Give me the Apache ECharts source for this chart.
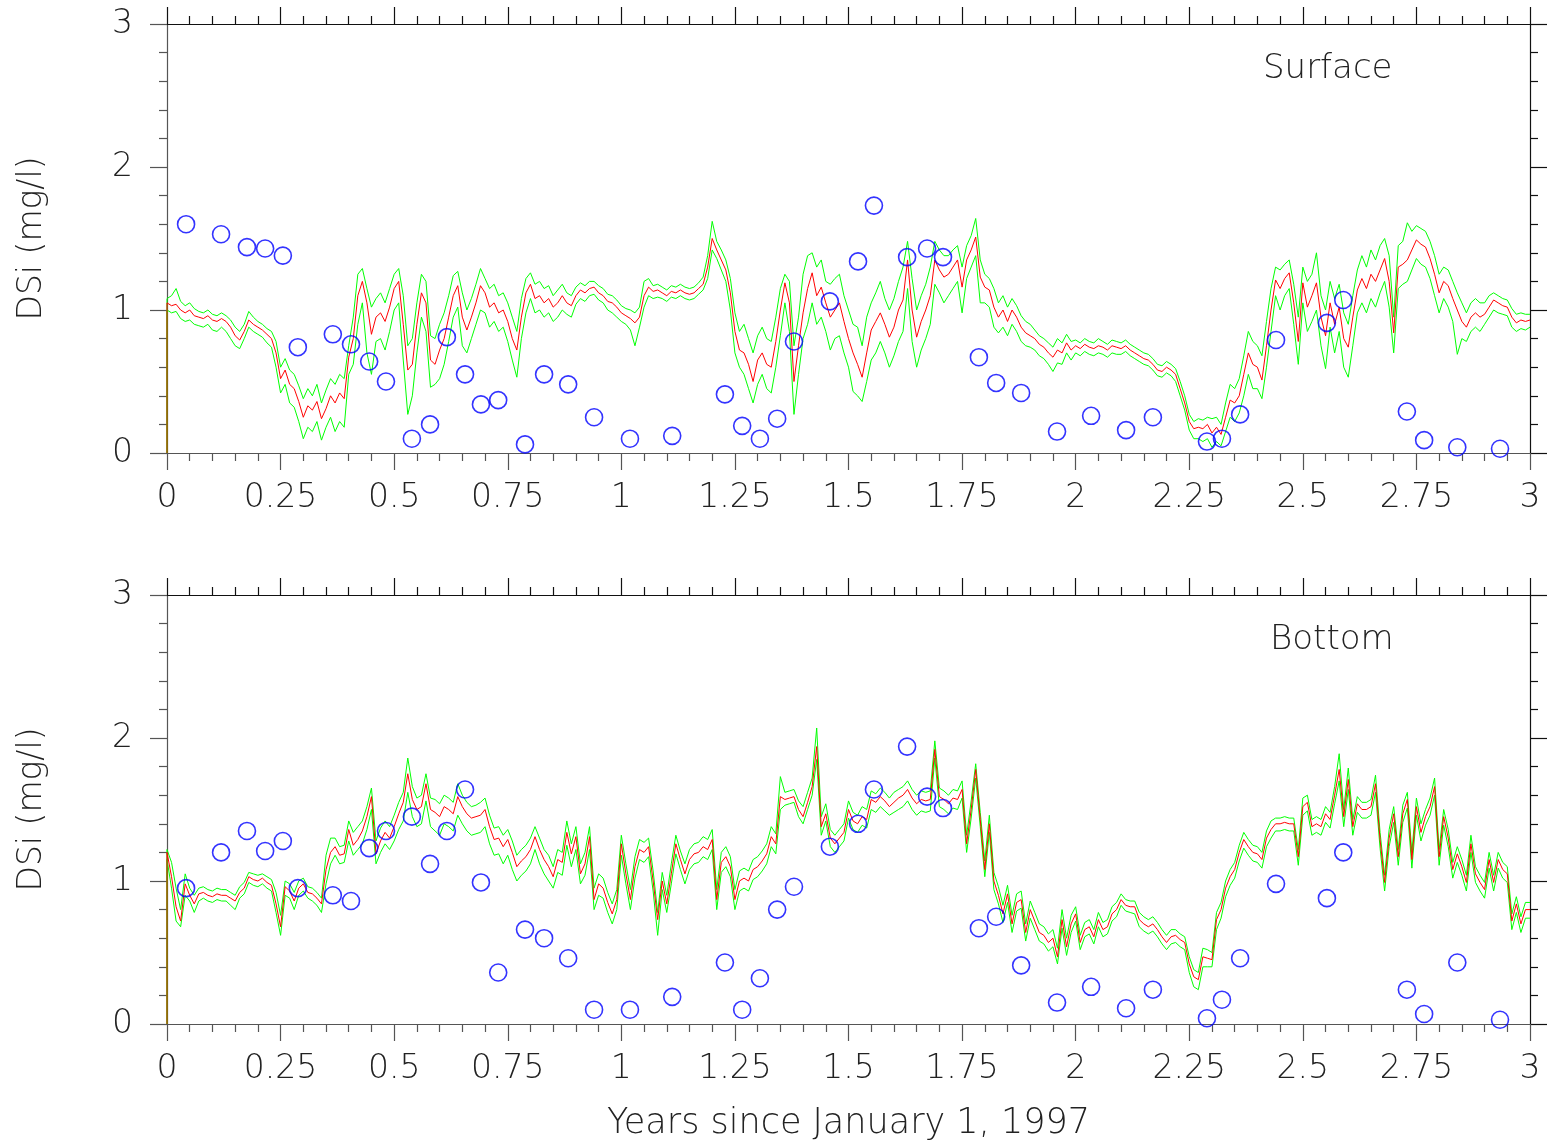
<!DOCTYPE html>
<html>
<head>
<meta charset="utf-8">
<script src="https://cdn.jsdelivr.net/npm/echarts@6/dist/echarts.min.js"></script>
<style>
  html, body { margin: 0; padding: 0; background: #fff; }
  #chart { width: 1549px; height: 1143px; }
</style>
</head>
<body>
<div id="chart"></div>
<script>
// model output every 0.01 yr, from t = 0 to t = 3
const surfMid = [
  1.05,1.03,1.04,1.00,0.98,1.00,0.96,0.95,0.94,0.96,
  0.93,0.92,0.94,0.92,0.88,0.82,0.79,0.85,0.93,0.90,
  0.88,0.86,0.83,0.80,0.70,0.52,0.58,0.48,0.45,0.36,
  0.25,0.33,0.30,0.36,0.24,0.31,0.40,0.35,0.42,0.38,
  0.67,0.80,1.10,1.20,1.05,0.83,0.95,0.98,0.92,1.02,
  1.15,1.20,0.90,0.58,0.62,0.90,1.12,1.05,0.65,0.62,
  0.72,0.80,0.95,1.10,1.17,0.95,0.86,0.95,1.05,1.17,
  1.12,1.02,1.05,0.98,1.00,0.92,0.80,0.72,0.95,1.12,
  1.18,1.08,1.10,1.05,1.08,1.02,1.05,1.10,1.05,1.03,
  1.10,1.14,1.12,1.15,1.16,1.12,1.10,1.06,1.05,1.02,
  0.98,0.96,0.94,0.91,0.95,1.10,1.16,1.13,1.14,1.12,
  1.10,1.13,1.12,1.14,1.12,1.11,1.12,1.15,1.18,1.30,
  1.50,1.42,1.35,1.28,1.12,0.85,0.72,0.70,0.62,0.50,
  0.65,0.70,0.62,0.60,0.78,1.00,1.19,1.05,0.50,0.75,
  0.98,1.15,1.26,1.10,1.16,1.05,0.95,1.00,1.05,0.92,
  0.80,0.70,0.62,0.53,0.70,0.86,0.92,0.98,0.90,0.81,
  0.88,1.00,1.07,1.35,1.00,0.81,0.92,1.00,1.10,1.35,
  1.28,1.23,1.25,1.30,1.35,1.16,1.35,1.42,1.51,1.23,
  1.16,1.14,1.02,0.95,1.00,0.92,1.00,0.95,0.88,0.84,
  0.82,0.80,0.76,0.74,0.70,0.67,0.72,0.70,0.77,0.72,
  0.75,0.73,0.76,0.74,0.73,0.75,0.74,0.72,0.75,0.74,
  0.73,0.75,0.72,0.70,0.68,0.66,0.65,0.62,0.58,0.57,
  0.60,0.58,0.55,0.45,0.35,0.22,0.17,0.18,0.17,0.20,
  0.14,0.18,0.13,0.25,0.37,0.35,0.40,0.55,0.70,0.62,
  0.60,0.51,0.75,1.00,1.21,1.15,1.22,1.26,1.05,0.78,
  1.19,1.02,1.10,1.19,0.95,0.82,1.05,0.90,1.02,0.80,
  0.74,0.95,1.14,1.22,1.15,1.25,1.20,1.28,1.36,1.20,
  0.84,1.30,1.32,1.35,1.42,1.49,1.46,1.44,1.36,1.25,
  1.12,1.20,1.17,1.08,1.00,0.92,0.88,0.95,0.98,0.95,
  0.97,1.02,1.07,1.05,1.03,1.02,0.95,0.91,0.93,0.92,
  0.93
];
const surfHigh = [
  1.08,1.10,1.15,1.06,1.03,1.05,1.01,0.99,0.98,1.00,
  0.97,0.96,0.98,0.96,0.93,0.88,0.85,0.90,0.99,0.95,
  0.92,0.90,0.87,0.85,0.78,0.60,0.66,0.58,0.55,0.47,
  0.38,0.45,0.40,0.48,0.35,0.44,0.52,0.48,0.55,0.52,
  0.75,0.95,1.25,1.29,1.15,1.02,1.08,1.12,1.05,1.15,
  1.25,1.29,1.10,0.75,0.80,1.05,1.25,1.20,0.82,0.80,
  0.90,0.98,1.10,1.24,1.27,1.12,1.00,1.08,1.18,1.29,
  1.22,1.15,1.18,1.10,1.12,1.05,0.95,0.85,1.08,1.22,
  1.26,1.18,1.20,1.15,1.17,1.10,1.14,1.18,1.12,1.10,
  1.16,1.19,1.17,1.20,1.20,1.17,1.15,1.11,1.10,1.07,
  1.03,1.01,1.00,0.98,1.02,1.20,1.22,1.17,1.18,1.16,
  1.14,1.17,1.16,1.18,1.16,1.15,1.16,1.19,1.23,1.38,
  1.62,1.48,1.42,1.35,1.22,0.98,0.85,0.90,0.80,0.70,
  0.82,0.88,0.80,0.78,0.95,1.15,1.25,1.20,0.75,0.95,
  1.25,1.38,1.40,1.30,1.35,1.20,1.18,1.22,1.25,1.10,
  1.00,0.90,0.88,0.75,0.95,1.05,1.12,1.20,1.08,1.00,
  1.08,1.20,1.30,1.48,1.22,1.00,1.10,1.18,1.30,1.48,
  1.42,1.38,1.38,1.42,1.45,1.30,1.45,1.52,1.64,1.35,
  1.25,1.22,1.15,1.05,1.10,1.02,1.08,1.03,0.96,0.92,
  0.90,0.86,0.82,0.80,0.77,0.74,0.80,0.77,0.83,0.78,
  0.79,0.77,0.80,0.78,0.77,0.80,0.78,0.76,0.79,0.78,
  0.77,0.79,0.76,0.74,0.72,0.70,0.69,0.66,0.62,0.61,
  0.64,0.62,0.59,0.50,0.40,0.27,0.22,0.24,0.23,0.25,
  0.24,0.25,0.20,0.35,0.48,0.45,0.52,0.68,0.85,0.78,
  0.75,0.68,0.92,1.15,1.30,1.28,1.32,1.35,1.18,0.95,
  1.30,1.20,1.25,1.40,1.10,1.00,1.20,1.08,1.18,0.98,
  0.90,1.10,1.28,1.38,1.30,1.42,1.35,1.45,1.50,1.38,
  0.95,1.45,1.48,1.61,1.55,1.59,1.57,1.55,1.48,1.38,
  1.25,1.30,1.28,1.20,1.12,1.05,0.98,1.05,1.08,1.05,
  1.05,1.10,1.12,1.10,1.08,1.07,1.01,0.97,0.98,0.97,
  0.97
];
const surfLow = [
  1.00,0.98,0.99,0.94,0.92,0.93,0.90,0.89,0.88,0.90,
  0.86,0.85,0.88,0.85,0.80,0.75,0.73,0.80,0.88,0.85,
  0.83,0.81,0.77,0.74,0.60,0.42,0.48,0.35,0.32,0.22,
  0.10,0.18,0.15,0.22,0.09,0.18,0.25,0.15,0.22,0.18,
  0.55,0.62,0.90,1.05,0.70,0.55,0.78,0.80,0.72,0.85,
  1.00,1.05,0.65,0.27,0.40,0.70,0.95,0.85,0.46,0.48,
  0.52,0.62,0.78,0.95,1.02,0.75,0.70,0.80,0.90,1.00,
  0.98,0.88,0.92,0.85,0.88,0.78,0.65,0.53,0.80,0.98,
  1.08,0.98,1.00,0.95,0.98,0.92,0.95,1.00,0.97,0.95,
  1.04,1.08,1.06,1.10,1.11,1.07,1.05,1.00,0.98,0.95,
  0.92,0.90,0.86,0.75,0.88,1.02,1.10,1.08,1.09,1.08,
  1.06,1.09,1.08,1.10,1.08,1.07,1.08,1.11,1.14,1.22,
  1.42,1.36,1.28,1.20,1.00,0.70,0.60,0.55,0.45,0.35,
  0.48,0.55,0.45,0.42,0.60,0.82,1.05,0.85,0.27,0.55,
  0.80,0.90,1.05,0.90,0.95,0.85,0.72,0.80,0.82,0.70,
  0.60,0.43,0.40,0.36,0.50,0.65,0.70,0.78,0.70,0.60,
  0.68,0.78,0.85,1.15,0.78,0.60,0.72,0.80,0.90,1.18,
  1.12,1.05,1.10,1.15,1.20,0.98,1.22,1.30,1.38,1.05,
  1.05,1.02,0.88,0.84,0.88,0.82,0.90,0.85,0.78,0.75,
  0.74,0.72,0.68,0.66,0.62,0.57,0.63,0.62,0.70,0.65,
  0.70,0.68,0.71,0.69,0.68,0.70,0.69,0.67,0.70,0.69,
  0.69,0.71,0.68,0.66,0.64,0.62,0.61,0.58,0.54,0.53,
  0.56,0.54,0.50,0.40,0.30,0.16,0.10,0.10,0.08,0.10,
  0.04,0.08,0.05,0.15,0.25,0.22,0.28,0.40,0.55,0.45,
  0.45,0.38,0.60,0.85,1.10,1.00,1.10,1.15,0.90,0.62,
  1.05,0.85,0.92,1.00,0.75,0.59,0.88,0.70,0.85,0.60,
  0.53,0.75,0.98,1.05,0.98,1.08,1.02,1.12,1.20,1.02,
  0.70,1.15,1.18,1.20,1.28,1.36,1.32,1.30,1.22,1.10,
  0.98,1.08,1.02,0.92,0.69,0.80,0.78,0.85,0.88,0.85,
  0.90,0.95,1.00,0.98,0.97,0.96,0.88,0.85,0.87,0.86,
  0.88
];
const botMid = [
  1.20,1.03,0.82,0.72,0.98,0.90,0.84,0.91,0.92,0.90,
  0.89,0.91,0.90,0.90,0.88,0.86,0.92,0.95,1.03,1.01,
  1.00,1.02,0.99,0.97,0.84,0.68,0.96,0.93,0.86,0.95,
  0.98,0.92,0.91,0.88,0.84,1.08,1.20,1.24,1.18,1.19,
  1.36,1.25,1.29,1.35,1.45,1.59,1.19,1.28,1.34,1.30,
  1.38,1.47,1.55,1.75,1.57,1.50,1.52,1.68,1.50,1.48,
  1.45,1.52,1.50,1.47,1.59,1.52,1.47,1.44,1.45,1.46,
  1.50,1.38,1.29,1.30,1.24,1.29,1.20,1.10,1.14,1.17,
  1.22,1.31,1.22,1.15,1.10,1.03,1.15,1.13,1.34,1.19,
  1.31,1.05,1.12,1.31,0.87,0.98,0.95,0.85,0.77,0.87,
  1.26,1.05,0.87,1.10,1.22,1.20,1.24,1.00,0.73,1.00,
  0.84,1.05,1.26,1.15,1.05,1.15,1.19,1.20,1.24,1.22,
  1.29,0.87,1.13,1.17,1.10,0.87,1.00,1.02,1.00,1.08,
  1.10,1.14,1.19,1.31,1.26,1.59,1.57,1.58,1.59,1.50,
  1.45,1.55,1.66,1.94,1.38,1.47,1.30,1.26,1.30,1.34,
  1.50,1.42,1.40,1.45,1.43,1.57,1.55,1.59,1.56,1.52,
  1.55,1.58,1.60,1.64,1.58,1.54,1.57,1.56,1.57,1.92,
  1.59,1.57,1.54,1.58,1.57,1.64,1.26,1.50,1.78,1.43,
  1.08,1.40,1.00,0.90,0.77,0.91,0.70,0.85,0.87,0.64,
  0.80,0.72,0.64,0.62,0.57,0.60,0.47,0.73,0.54,0.70,
  0.77,0.57,0.66,0.68,0.61,0.73,0.66,0.68,0.77,0.80,
  0.87,0.83,0.82,0.82,0.73,0.70,0.68,0.70,0.66,0.61,
  0.57,0.61,0.62,0.59,0.57,0.42,0.33,0.31,0.47,0.46,
  0.45,0.73,0.80,0.95,1.03,1.08,1.20,1.29,1.24,1.20,
  1.19,1.15,1.30,1.36,1.40,1.40,1.41,1.40,1.40,1.17,
  1.52,1.55,1.38,1.40,1.38,1.47,1.43,1.60,1.78,1.45,
  1.71,1.38,1.54,1.50,1.50,1.52,1.68,1.29,0.99,1.30,
  1.47,1.17,1.47,1.57,1.15,1.52,1.34,1.45,1.52,1.66,
  1.17,1.45,1.30,1.08,1.19,1.10,0.99,1.26,1.05,0.99,
  0.94,1.15,0.99,1.15,1.08,1.05,0.72,0.84,0.70,0.80,
  0.80
];
const botHigh = [
  1.22,1.13,0.95,0.80,1.05,0.95,0.90,0.95,0.96,0.94,
  0.93,0.95,0.94,0.94,0.92,0.90,0.96,0.99,1.06,1.05,
  1.04,1.05,1.03,1.01,0.92,0.76,1.00,0.98,0.92,1.00,
  1.02,0.96,0.95,0.92,0.88,1.18,1.30,1.30,1.24,1.25,
  1.42,1.34,1.38,1.42,1.52,1.65,1.28,1.37,1.42,1.38,
  1.46,1.55,1.62,1.86,1.66,1.58,1.60,1.75,1.58,1.57,
  1.54,1.60,1.58,1.55,1.68,1.60,1.55,1.52,1.53,1.55,
  1.58,1.46,1.37,1.38,1.32,1.36,1.28,1.18,1.22,1.25,
  1.30,1.38,1.30,1.22,1.18,1.10,1.22,1.20,1.42,1.26,
  1.38,1.12,1.20,1.38,0.95,1.05,1.02,0.92,0.84,0.94,
  1.32,1.12,0.94,1.17,1.29,1.27,1.30,1.07,0.78,1.06,
  0.90,1.12,1.32,1.21,1.12,1.22,1.26,1.27,1.31,1.29,
  1.36,0.94,1.20,1.24,1.17,0.94,1.07,1.09,1.07,1.15,
  1.17,1.21,1.26,1.38,1.33,1.73,1.62,1.63,1.64,1.56,
  1.52,1.62,1.72,2.07,1.45,1.54,1.36,1.32,1.36,1.40,
  1.56,1.48,1.46,1.52,1.50,1.63,1.61,1.65,1.62,1.58,
  1.62,1.64,1.66,1.70,1.64,1.60,1.63,1.62,1.63,1.98,
  1.65,1.63,1.60,1.64,1.63,1.70,1.32,1.56,1.82,1.48,
  1.14,1.46,1.06,0.96,0.83,0.97,0.76,0.91,0.93,0.70,
  0.86,0.78,0.70,0.68,0.63,0.66,0.53,0.80,0.60,0.76,
  0.82,0.62,0.71,0.73,0.66,0.78,0.71,0.73,0.82,0.85,
  0.91,0.87,0.86,0.86,0.78,0.75,0.73,0.75,0.71,0.66,
  0.62,0.66,0.66,0.63,0.61,0.47,0.38,0.36,0.53,0.52,
  0.50,0.78,0.85,1.00,1.08,1.13,1.25,1.34,1.29,1.25,
  1.24,1.20,1.35,1.42,1.44,1.44,1.45,1.44,1.44,1.22,
  1.58,1.60,1.43,1.45,1.43,1.52,1.48,1.66,1.89,1.50,
  1.79,1.43,1.59,1.55,1.55,1.57,1.74,1.34,1.04,1.36,
  1.52,1.22,1.53,1.62,1.20,1.58,1.40,1.50,1.58,1.72,
  1.22,1.50,1.36,1.13,1.24,1.15,1.04,1.32,1.10,1.04,
  0.99,1.20,1.04,1.20,1.13,1.10,0.77,0.89,0.75,0.85,
  0.85
];
const botLow = [
  1.15,0.95,0.72,0.68,0.90,0.86,0.78,0.86,0.88,0.86,
  0.85,0.87,0.86,0.86,0.83,0.80,0.88,0.91,0.99,0.97,
  0.96,0.98,0.95,0.93,0.78,0.62,0.90,0.88,0.80,0.90,
  0.93,0.88,0.86,0.83,0.78,0.98,1.12,1.18,1.12,1.13,
  1.28,1.18,1.22,1.26,1.36,1.50,1.12,1.20,1.26,1.22,
  1.28,1.36,1.42,1.62,1.45,1.38,1.40,1.56,1.38,1.35,
  1.32,1.40,1.38,1.35,1.46,1.40,1.35,1.32,1.33,1.34,
  1.38,1.26,1.18,1.19,1.12,1.18,1.08,1.00,1.04,1.07,
  1.12,1.22,1.12,1.05,1.00,0.95,1.06,1.04,1.25,1.10,
  1.22,0.98,1.04,1.22,0.80,0.90,0.88,0.78,0.70,0.80,
  1.18,0.98,0.80,1.02,1.15,1.13,1.17,0.93,0.62,0.94,
  0.78,0.98,1.19,1.08,0.98,1.08,1.12,1.13,1.17,1.15,
  1.22,0.80,1.06,1.10,1.03,0.80,0.93,0.95,0.93,1.01,
  1.03,1.07,1.12,1.24,1.19,1.50,1.53,1.54,1.55,1.45,
  1.40,1.50,1.60,1.85,1.32,1.42,1.24,1.20,1.24,1.28,
  1.44,1.36,1.34,1.39,1.37,1.50,1.48,1.52,1.49,1.46,
  1.48,1.50,1.52,1.56,1.50,1.46,1.49,1.48,1.49,1.86,
  1.52,1.50,1.47,1.51,1.50,1.58,1.20,1.44,1.72,1.38,
  1.03,1.34,0.94,0.84,0.71,0.85,0.64,0.79,0.81,0.58,
  0.74,0.66,0.58,0.56,0.51,0.54,0.42,0.67,0.48,0.64,
  0.72,0.52,0.61,0.63,0.56,0.68,0.61,0.63,0.72,0.75,
  0.83,0.79,0.78,0.77,0.68,0.65,0.63,0.65,0.61,0.56,
  0.52,0.56,0.57,0.54,0.52,0.36,0.26,0.24,0.40,0.40,
  0.40,0.66,0.74,0.89,0.97,1.02,1.14,1.23,1.18,1.14,
  1.13,1.09,1.24,1.30,1.35,1.35,1.36,1.35,1.35,1.11,
  1.46,1.49,1.32,1.34,1.32,1.41,1.37,1.54,1.70,1.38,
  1.64,1.32,1.48,1.44,1.44,1.46,1.62,1.23,0.93,1.24,
  1.41,1.11,1.41,1.51,1.09,1.46,1.28,1.39,1.46,1.60,
  1.11,1.39,1.24,1.02,1.13,1.04,0.93,1.20,0.99,0.93,
  0.88,1.09,0.93,1.09,1.02,0.99,0.66,0.78,0.64,0.74,
  0.74
];

// observations (same sampling dates at both depths)
const obsTime = [
  0.042,0.119,0.176,0.216,0.255,0.288,0.365,0.405,0.445,0.482,
  0.539,0.579,0.616,0.656,0.691,0.729,0.788,0.830,0.883,0.940,
  1.019,1.112,1.228,1.266,1.305,1.343,1.380,1.459,1.521,1.556,
  1.629,1.673,1.708,1.787,1.825,1.880,1.959,2.034,2.111,2.170,
  2.289,2.322,2.362,2.441,2.553,2.589,2.729,2.767,2.840,2.934
];
const obsSurf = [
  1.60,1.53,1.44,1.43,1.38,0.74,0.83,0.76,0.64,0.50,
  0.10,0.20,0.81,0.55,0.34,0.37,0.06,0.55,0.48,0.25,
  0.10,0.12,0.41,0.19,0.10,0.24,0.78,1.06,1.34,1.73,
  1.37,1.43,1.37,0.67,0.49,0.42,0.15,0.26,0.16,0.25,
  0.08,0.10,0.27,0.79,0.91,1.07,0.29,0.09,0.04,0.03
];
const obsBot = [
  0.95,1.20,1.35,1.21,1.28,0.95,0.90,0.86,1.23,1.35,
  1.45,1.12,1.35,1.64,0.99,0.36,0.66,0.60,0.46,0.10,
  0.10,0.19,0.43,0.10,0.32,0.80,0.96,1.24,1.40,1.64,
  1.94,1.59,1.51,0.67,0.75,0.41,0.15,0.26,0.11,0.24,
  0.04,0.17,0.46,0.98,0.88,1.20,0.24,0.07,0.43,0.03
];

const panelLabels = ['Surface', 'Bottom'];
const startValue = 0;
const stepYears = 0.01;

const FONT = '"DejaVu Sans", sans-serif';
const TXT = '#222';
const FS = 33;

function toXY(vals) {
  const out = [[0, startValue]];
  vals.forEach((v, i) => out.push([+(i * stepYears).toFixed(2), v]));
  return out;
}

function xAxisFor(gridIndex, pos, withLabels) {
  const c = pos === 'top' ? '#111' : '#555';
  return {
    type: 'value', gridIndex: gridIndex, position: pos,
    min: 0, max: 3, interval: 0.25,
    axisLine: { show: true, onZero: false, lineStyle: { color: c, width: 1.2 } },
    axisTick: { show: true, length: 17, lineStyle: { color: c, width: 1.2 } },
    minorTick: { show: true, splitNumber: 5, length: 8, lineStyle: { color: c, width: 1.2 } },
    splitLine: { show: false },
    axisLabel: { show: withLabels, margin: 29, fontSize: FS, fontFamily: FONT, fontWeight: 200, color: TXT },
  };
}

function yAxisFor(gridIndex, pos, withLabels) {
  const c = pos === 'right' ? '#111' : '#555';
  return {
    type: 'value', gridIndex: gridIndex, position: pos,
    min: 0, max: 3, interval: 1,
    axisLine: { show: true, onZero: false, lineStyle: { color: c, width: 1.2 } },
    axisTick: { show: true, length: 17, lineStyle: { color: c, width: 1.2 } },
    minorTick: { show: true, splitNumber: 5, length: 8, lineStyle: { color: c, width: 1.2 } },
    splitLine: { show: false },
    axisLabel: { show: withLabels, margin: 34, fontSize: FS, fontFamily: FONT, fontWeight: 200, color: TXT },
    name: withLabels ? 'DSi (mg/l)' : '',
    nameLocation: 'middle',
    nameGap: 118,
    nameTextStyle: { fontSize: FS, fontFamily: FONT, fontWeight: 200, color: TXT },
  };
}

function lineSeries(idx, data, color, z) {
  return {
    type: 'line', xAxisIndex: idx * 2, yAxisIndex: idx * 2,
    data: toXY(data), showSymbol: false, symbol: 'none',
    lineStyle: { color: color, width: 1 }, z: z, silent: true,
  };
}

function obsSeries(idx, vals) {
  return {
    type: 'scatter', xAxisIndex: idx * 2, yAxisIndex: idx * 2,
    data: obsTime.map((t, i) => [t, vals[i]]),
    symbol: 'circle', symbolSize: 17,
    itemStyle: { color: 'rgba(0,0,0,0)', borderColor: '#0000ff', borderWidth: 1.6 },
    z: 5, silent: true,
  };
}

const chart = echarts.init(document.getElementById('chart'));
const bottomX = xAxisFor(1, 'bottom', true);
bottomX.name = 'Years since January 1, 1997';
bottomX.nameLocation = 'middle';
bottomX.nameGap = 82;
bottomX.nameTextStyle = { fontSize: 35, fontFamily: FONT, fontWeight: 200, color: TXT };

chart.setOption({
  animation: false,
  backgroundColor: '#fff',
  grid: [
    { left: 167, top: 24, width: 1363, height: 429 },
    { left: 167, top: 595, width: 1363, height: 429 },
  ],
  xAxis: [
    xAxisFor(0, 'bottom', true), xAxisFor(0, 'top', false),
    bottomX, xAxisFor(1, 'top', false),
  ],
  yAxis: [
    yAxisFor(0, 'left', true), yAxisFor(0, 'right', false),
    yAxisFor(1, 'left', true), yAxisFor(1, 'right', false),
  ],
  graphic: [
    { type: 'text', left: 1263, top: 52, style: { text: panelLabels[0], font: '200 34px ' + FONT, fill: TXT } },
    { type: 'text', left: 1270, top: 623, style: { text: panelLabels[1], font: '200 34px ' + FONT, fill: TXT } },
  ],
  series: [
    lineSeries(0, surfHigh, '#00ff00', 2),
    lineSeries(0, surfLow, '#00ff00', 2),
    lineSeries(0, surfMid, '#ff0000', 3),
    obsSeries(0, obsSurf),
    lineSeries(1, botHigh, '#00ff00', 2),
    lineSeries(1, botLow, '#00ff00', 2),
    lineSeries(1, botMid, '#ff0000', 3),
    obsSeries(1, obsBot),
  ],
});
</script>
</body>
</html>
